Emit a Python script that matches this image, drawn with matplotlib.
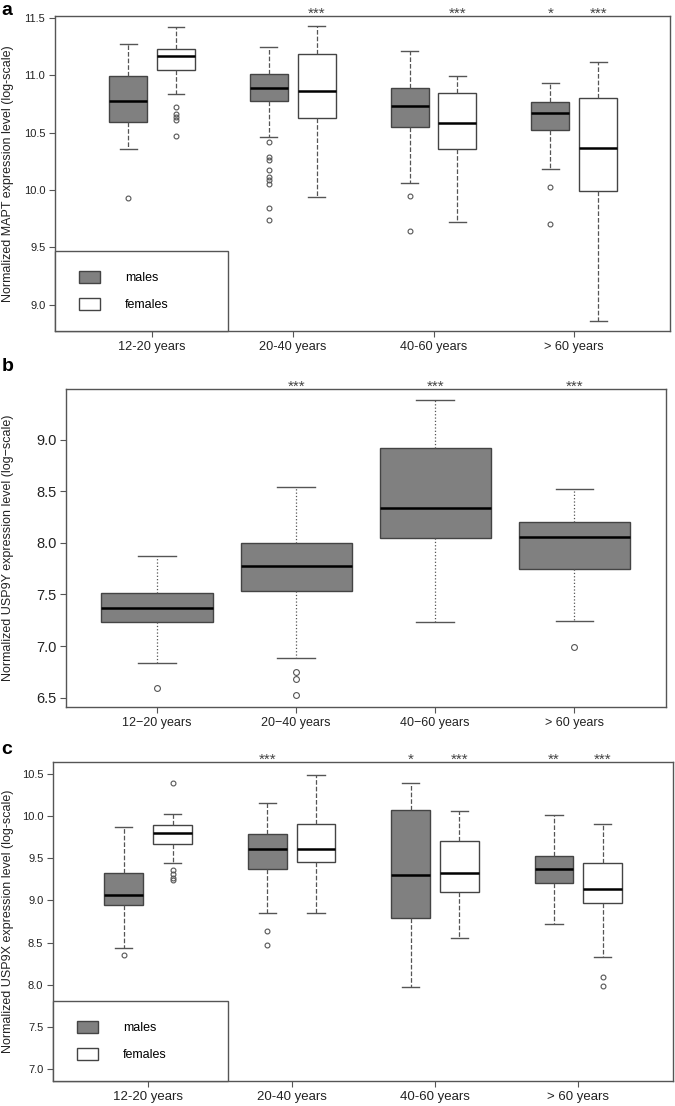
import matplotlib
matplotlib.use('Agg')
import matplotlib.pyplot as plt
import matplotlib.transforms as mtransforms
from matplotlib.patches import Patch, Rectangle

plt.rcParams['font.family'] = ['Liberation Sans', 'DejaVu Sans']

# grupos de idade
grupos = ['12-20 years', '20-40 years', '40-60 years', '> 60 years']
grupos_b = ['12\u221220 years', '20\u221240 years', '40\u221260 years', '> 60 years']

# painel a - MAPT: [whisker baixo, q1, mediana, q3, whisker alto] por grupo
mapt_males = [
    [10.36, 10.59, 10.78, 10.99, 11.27],
    [10.46, 10.78, 10.89, 11.01, 11.25],
    [10.06, 10.55, 10.73, 10.89, 11.21],
    [10.18, 10.52, 10.67, 10.77, 10.93],
]
mapt_males_out = [[9.93], [10.42, 10.29, 10.26, 10.17, 10.11, 10.09, 10.05, 9.84, 9.74], [9.95, 9.64], [10.03, 9.70]]
mapt_females = [
    [10.84, 11.05, 11.17, 11.23, 11.42],
    [9.94, 10.63, 10.86, 11.19, 11.43],
    [9.72, 10.36, 10.58, 10.85, 10.99],
    [8.86, 9.99, 10.37, 10.80, 11.12],
]
mapt_females_out = [[10.72, 10.66, 10.64, 10.61, 10.47], [], [], []]
mapt_stars_m = ['', '', '', '*']
mapt_stars_f = ['', '***', '***', '***']

# painel b - USP9Y (so homens)
usp9y = [
    [6.84, 7.23, 7.37, 7.51, 7.87],
    [6.88, 7.53, 7.78, 8.00, 8.54],
    [7.23, 8.05, 8.34, 8.92, 9.38],
    [7.24, 7.75, 8.06, 8.20, 8.52],
]
usp9y_out = [[6.59], [6.75, 6.68, 6.53], [], [6.99]]
usp9y_stars = ['', '***', '***', '***']

# painel c - USP9X
usp9x_males = [
    [8.44, 8.94, 9.07, 9.32, 9.87],
    [8.85, 9.37, 9.61, 9.79, 10.15],
    [7.97, 8.79, 9.30, 10.07, 10.39],
    [8.72, 9.21, 9.37, 9.53, 10.01],
]
usp9x_males_out = [[8.35], [8.64, 8.47], [], []]
usp9x_females = [
    [9.44, 9.67, 9.80, 9.89, 10.03],
    [8.85, 9.45, 9.61, 9.91, 10.49],
    [8.55, 9.10, 9.33, 9.71, 10.06],
    [8.33, 8.97, 9.14, 9.44, 9.90],
]
usp9x_females_out = [[10.39, 9.36, 9.31, 9.27, 9.24], [], [], [8.09, 7.99]]
usp9x_stars_m = ['', '***', '*', '**']
usp9x_stars_f = ['', '', '***', '***']

cor_homens = '#808080'
cinza = '#555555'


def monta_stats(cinco, outliers):
    stats = []
    for (lo, q1, med, q3, hi), fl in zip(cinco, outliers):
        stats.append({'whislo': lo, 'q1': q1, 'med': med, 'q3': q3, 'whishi': hi, 'fliers': fl})
    return stats


def desenha(ax, stats, pos, cor, largura, capw, estilo, ms):
    ax.bxp(stats, positions=pos, widths=largura, capwidths=capw, patch_artist=True,
           manage_ticks=False,
           boxprops=dict(facecolor=cor, edgecolor='#444444', linewidth=1),
           medianprops=dict(color='black', linewidth=1.8),
           whiskerprops=dict(color=cinza, linestyle=estilo, linewidth=0.9),
           capprops=dict(color=cinza, linewidth=1),
           flierprops=dict(marker='o', markerfacecolor='none', markeredgecolor=cinza,
                           markersize=ms, markeredgewidth=0.8))


def estrelas(ax, pos, marcas):
    # asteriscos logo acima da moldura
    trans = mtransforms.blended_transform_factory(ax.transData, ax.transAxes)
    for p, s in zip(pos, marcas):
        if s:
            ax.annotate(s, xy=(p, 1.0), xycoords=trans, xytext=(0, -1.2),
                        textcoords='offset points', ha='center', va='baseline',
                        fontsize=11, color='#444444', annotation_clip=False)


def legenda(ax, w, h, x0, y0):
    ax.add_patch(Rectangle((0, 0), w, h, transform=ax.transAxes, facecolor='white',
                           edgecolor=cinza, linewidth=1, zorder=5, clip_on=False))
    hs = [Patch(facecolor=cor_homens, edgecolor='#444444'), Patch(facecolor='white', edgecolor='#444444')]
    leg = ax.legend(hs, ['males', 'females'], loc='upper left', bbox_to_anchor=(x0, y0),
                    frameon=False, fontsize=9, handlelength=1.67, handleheight=1.1,
                    handletextpad=2.0, labelspacing=1.1, borderpad=0, borderaxespad=0)
    leg.set_zorder(6)


def estilo_eixo(ax, yticks, labels, xsize, ysize):
    for s in ax.spines.values():
        s.set_color(cinza)
        s.set_linewidth(1)
    ax.set_xticks([1, 2, 3, 4])
    ax.set_xticklabels(labels, fontsize=xsize, color='#222222')
    ax.set_yticks(yticks)
    ax.set_yticklabels(['%.1f' % v for v in yticks], fontsize=ysize, color='#222222')
    ax.tick_params(direction='out', length=4, width=0.8, color=cinza, pad=3)


def rotulo_y(ax, texto, x_px):
    # borda direita do rotulo em x_px (pixels da figura)
    ax.set_ylabel(texto, fontsize=9, color='#222222')
    box = ax.get_position()
    ax.yaxis.set_label_coords((x_px / 675 - box.x0) / box.width, 0.5)


fig = plt.figure(figsize=(6.75, 11.06), dpi=100)
pos = [1, 2, 3, 4]
pos_m = [p - 0.17 for p in pos]
pos_f = [p + 0.17 for p in pos]

# painel a
ax1 = fig.add_axes([0.0815, 0.7007, 0.911, 0.2851])
desenha(ax1, monta_stats(mapt_males, mapt_males_out), pos_m, cor_homens, 0.27, 0.12, '--', 3.5)
desenha(ax1, monta_stats(mapt_females, mapt_females_out), pos_f, 'white', 0.27, 0.12, '--', 3.5)
ax1.set_xlim(0.31, 4.68)
ax1.set_ylim(8.77, 11.52)
estilo_eixo(ax1, [9.0, 9.5, 10.0, 10.5, 11.0, 11.5], grupos, 9.2, 8)
rotulo_y(ax1, 'Normalized MAPT expression level (log-scale)', 14)
estrelas(ax1, pos_m, mapt_stars_m)
estrelas(ax1, pos_f, mapt_stars_f)
legenda(ax1, 0.281, 0.254, 0.039, 0.19)

# painel b
ax2 = fig.add_axes([0.0978, 0.3608, 0.889, 0.2875])
desenha(ax2, monta_stats(usp9y, usp9y_out), pos, cor_homens, 0.8, 0.27, ':', 4.2)
ax2.set_xlim(0.345, 4.66)
ax2.set_ylim(6.41, 9.49)
estilo_eixo(ax2, [6.5, 7.0, 7.5, 8.0, 8.5, 9.0], grupos_b, 9, 10.5)
rotulo_y(ax2, 'Normalized USP9Y expression level (log\u2212scale)', 14)
estrelas(ax2, pos, usp9y_stars)

# painel c
ax3 = fig.add_axes([0.0785, 0.0226, 0.9185, 0.2884])
desenha(ax3, monta_stats(usp9x_males, usp9x_males_out), pos_m, cor_homens, 0.27, 0.12, '--', 3.5)
desenha(ax3, monta_stats(usp9x_females, usp9x_females_out), pos_f, 'white', 0.27, 0.12, '--', 3.5)
ax3.set_xlim(0.336, 4.66)
ax3.set_ylim(6.86, 10.64)
estilo_eixo(ax3, [7.0, 7.5, 8.0, 8.5, 9.0, 9.5, 10.0, 10.5], grupos, 9.5, 8)
rotulo_y(ax3, 'Normalized USP9X expression level (log-scale)', 14)
estrelas(ax3, pos_m, usp9x_stars_m)
estrelas(ax3, pos_f, usp9x_stars_f)
legenda(ax3, 0.282, 0.251, 0.039, 0.188)

# letras dos paineis
fig.text(0.002, 0.998, 'a', fontsize=14, fontweight='bold', va='top')
fig.text(0.002, 0.676, 'b', fontsize=14, fontweight='bold', va='top')
fig.text(0.002, 0.330, 'c', fontsize=14, fontweight='bold', va='top')

fig.savefig('out.png', dpi=100)
